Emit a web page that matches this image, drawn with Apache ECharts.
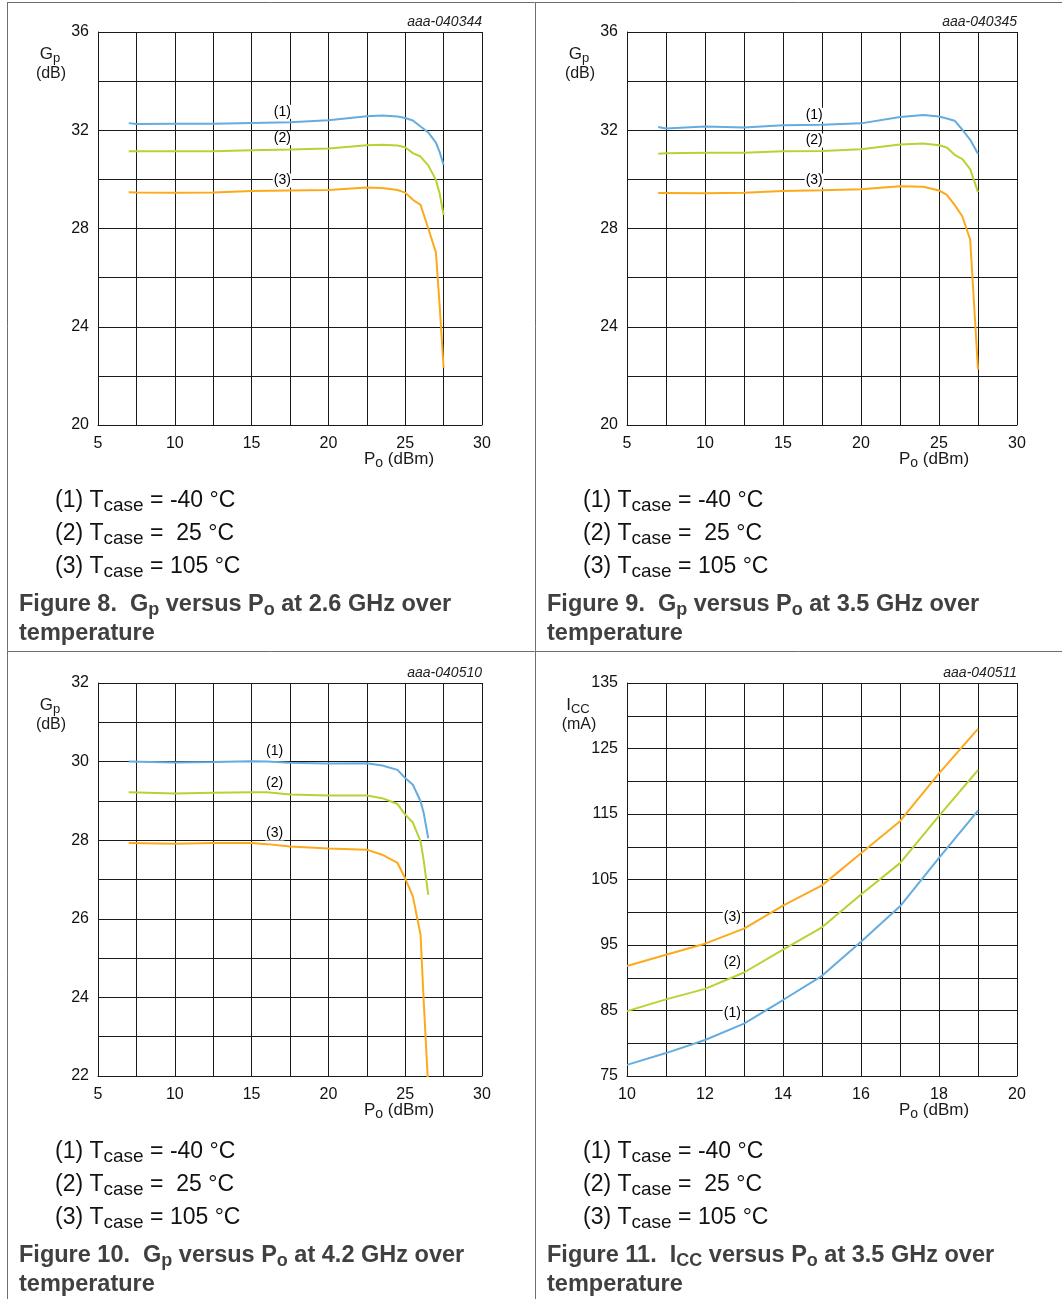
<!DOCTYPE html>
<html>
<head>
<meta charset="utf-8">
<title>Gp / Icc versus Po over temperature</title>
<script src="https://cdn.jsdelivr.net/npm/echarts@6/dist/echarts.min.js"></script>
<style>
  html, body { margin: 0; padding: 0; background: #fff; }
  #main { width: 1062px; height: 1299px; }
</style>
</head>
<body>
<div id="main"></div>
<script>
// ---- data ----
// Figure 8: Gp vs Po at 2.6 GHz
const po26 = [7, 7.5, 10, 12.5, 15, 17.5, 20, 22.5, 23.5, 24.5, 25, 25.5, 26, 26.5, 27, 27.25, 27.5];
const gp26_m40 = [32.29, 32.25, 32.26, 32.26, 32.30, 32.33, 32.41, 32.57, 32.60, 32.56, 32.50, 32.40, 32.15, 31.91, 31.50, 31.10, 30.59];
const gp26_25 = [31.14, 31.15, 31.15, 31.15, 31.19, 31.22, 31.26, 31.39, 31.41, 31.38, 31.31, 31.07, 30.93, 30.57, 29.98, 29.40, 28.55];
const gp26_105 = [29.48, 29.47, 29.46, 29.47, 29.53, 29.55, 29.57, 29.67, 29.65, 29.57, 29.46, 29.17, 28.96, 28.01, 27.03, 24.80, 22.33];
const lbl26 = [[17, 32.75], [17, 31.68], [17, 29.95]];

// Figure 9: Gp vs Po at 3.5 GHz
const po35 = [7, 7.5, 10, 12.5, 15, 17.5, 20, 22.5, 24, 25, 25.5, 26, 26.5, 27, 27.5];
const gp35_m40 = [32.13, 32.07, 32.15, 32.11, 32.20, 32.22, 32.28, 32.54, 32.62, 32.56, 32.48, 32.39, 32.02, 31.61, 31.04];
const gp35_25 = [31.04, 31.06, 31.08, 31.08, 31.14, 31.16, 31.23, 31.42, 31.46, 31.39, 31.30, 31.00, 30.82, 30.42, 29.48];
const gp35_105 = [29.45, 29.45, 29.44, 29.46, 29.53, 29.56, 29.60, 29.72, 29.70, 29.55, 29.37, 28.96, 28.49, 27.54, 22.26];
const lbl35 = [[17, 32.63], [17, 31.58], [17, 29.95]];

// Figure 10: Gp vs Po at 4.2 GHz
const po42 = [7, 10, 12.5, 15, 16, 17.5, 20, 22.5, 23.5, 24.5, 25, 25.5, 26, 26.2, 26.5];
const gp42_m40 = [30.00, 29.98, 29.99, 30.01, 30.00, 29.97, 29.95, 29.96, 29.90, 29.79, 29.58, 29.41, 28.99, 28.70, 28.05];
const gp42_25 = [29.22, 29.19, 29.21, 29.22, 29.22, 29.16, 29.14, 29.14, 29.07, 28.92, 28.65, 28.45, 27.97, 27.50, 26.61];
const gp42_105 = [27.93, 27.91, 27.93, 27.93, 27.90, 27.84, 27.79, 27.76, 27.63, 27.42, 27.03, 26.57, 25.59, 23.94, 21.70];
const lbl42 = [[16.5, 30.26], [16.5, 29.44], [16.5, 28.17]];

// Figure 11: Icc vs Po at 3.5 GHz
const poIcc = [10, 11, 12, 13, 14, 15, 16, 17, 18, 19];
const icc_m40 = [76.7, 78.5, 80.5, 83.0, 86.6, 90.3, 95.5, 100.9, 108.3, 115.5];
const icc_25 = [84.9, 86.7, 88.3, 90.8, 94.3, 97.7, 102.7, 107.5, 114.7, 121.7];
const icc_105 = [91.8, 93.5, 95.2, 97.5, 101.0, 104.1, 109.0, 113.9, 121.2, 128.0];
const lblIcc = [[12.7, 84.6], [12.7, 92.4], [12.7, 99.2]];

const curveNames = ['(1)', '(2)', '(3)'];
const figIds = ['aaa-040344', 'aaa-040345', 'aaa-040510', 'aaa-040511'];

// ---- styling ----
const FONT = '"Liberation Sans", Arial, Helvetica, sans-serif';
const BLUE = '#65acdf';
const GREEN = '#b6d334';
const ORANGE = '#fcaa1c';
const GRID = '#1a1a1a';

const chart = echarts.init(document.getElementById('main'));

const grids = [
    { left: 98, top: 32, width: 384, height: 393 },
    { left: 627, top: 32, width: 390, height: 393 },
    { left: 98, top: 683, width: 384, height: 393 },
    { left: 627, top: 683, width: 390, height: 393 }
];

function xAxisCfg(i, min, max, interval) {
    return {
        type: 'value', gridIndex: i, min: min, max: max, interval: interval,
        axisLine: { show: true, lineStyle: { color: GRID, width: 1 } },
        axisTick: { show: false },
        minorTick: { show: false, splitNumber: 2 },
        axisLabel: { fontSize: 16, color: '#111', margin: 11, fontFamily: FONT },
        splitLine: { show: true, lineStyle: { color: GRID, width: 1 } },
        minorSplitLine: { show: true, lineStyle: { color: GRID, width: 1 } }
    };
}
function yAxisCfg(i, min, max, interval) {
    const a = xAxisCfg(i, min, max, interval);
    a.axisLabel.margin = 9;
    return a;
}

function line(i, xs, ys, color) {
    return {
        type: 'line', xAxisIndex: i, yAxisIndex: i,
        data: xs.map((x, k) => [x, ys[k]]),
        symbol: 'none', clip: true, z: 3,
        lineStyle: { color: color, width: 2 }
    };
}
// curve tags (1)(2)(3) with a white box that breaks the grid line
function labels(i, pos) {
    return {
        type: 'scatter', xAxisIndex: i, yAxisIndex: i, z: 5,
        symbolSize: 2, itemStyle: { color: 'rgba(0,0,0,0)' },
        data: pos.map((p, k) => ({ name: curveNames[k], value: p })),
        label: {
            show: true, position: 'inside', formatter: '{b}', opacity: 1,
            fontSize: 14, color: '#000', fontFamily: FONT,
            backgroundColor: '#fff', padding: [0, 1]
        }
    };
}

// ---- texts (axis names, ids, captions) ----
const sub = (n, s) => ({
    n: { fontSize: n, fontFamily: FONT, fill: '#1a1a1a', lineHeight: 22, verticalAlign: 'middle' },
    s: { fontSize: s, fontFamily: FONT, fill: '#1a1a1a', lineHeight: s, verticalAlign: 'bottom' }
});
function txt(x, y, text, rich, align, extra) {
    return {
        type: 'text', x: x, y: y, z: 10,
        style: Object.assign({
            text: text, rich: rich, fill: '#1a1a1a', fontFamily: FONT,
            align: align || 'left', verticalAlign: 'middle'
        }, extra || {})
    };
}

const legendRich = {
    n: { fontSize: 23, fontFamily: FONT, fill: '#111', lineHeight: 29, verticalAlign: 'middle' },
    s: { fontSize: 19, fontFamily: FONT, fill: '#111', lineHeight: 19, verticalAlign: 'bottom' }
};
const capRich = {
    n: { fontSize: 23.5, fontWeight: 'bold', fontFamily: FONT, fill: '#404040', lineHeight: 29, verticalAlign: 'middle' },
    s: { fontSize: 18, fontWeight: 'bold', fontFamily: FONT, fill: '#404040', lineHeight: 18, verticalAlign: 'bottom' }
};
const capTexts = [
    '{n|Figure 8.  G}{s|p}{n| versus P}{s|o}{n| at 2.6 GHz over}',
    '{n|Figure 9.  G}{s|p}{n| versus P}{s|o}{n| at 3.5 GHz over}',
    '{n|Figure 10.  G}{s|p}{n| versus P}{s|o}{n| at 4.2 GHz over}',
    '{n|Figure 11.  I}{s|CC}{n| versus P}{s|o}{n| at 3.5 GHz over}'
];
const tcase = [
    '{n|(1) T}{s|case}{n| = -40 °C}',
    '{n|(2) T}{s|case}{n| =  25 °C}',
    '{n|(3) T}{s|case}{n| = 105 °C}'
];

const graphics = [];
// panel frame
const frame = { stroke: '#6e6e6e', lineWidth: 1 };
graphics.push({ type: 'line', shape: { x1: 7.5, y1: 2.5, x2: 7.5, y2: 1299 }, style: frame });
graphics.push({ type: 'line', shape: { x1: 7, y1: 2.5, x2: 1062, y2: 2.5 }, style: frame });
graphics.push({ type: 'line', shape: { x1: 535.5, y1: 2.5, x2: 535.5, y2: 1299 }, style: frame });
graphics.push({ type: 'line', shape: { x1: 7, y1: 651.5, x2: 1062, y2: 651.5 }, style: frame });

const panelX = [0, 528, 0, 528];
const panelY = [0, 0, 651, 651];
grids.forEach((g, i) => {
    const right = g.left + g.width;
    const bottom = g.top + g.height;
    // figure id
    graphics.push(txt(right, g.top - 10, figIds[i], null, 'right',
        { fontSize: 14, fontStyle: 'italic', fill: '#222' }));
    // x name
    graphics.push(txt(right - 83, bottom + 34, '{n|P}{s|o}{n| (dBm)}', sub(17, 14), 'center'));
    // y name
    if (i < 3) {
        graphics.push(txt(g.left - 48, g.top + 22, '{n|G}{s|p}', sub(17, 13), 'center'));
        graphics.push(txt(g.left - 47, g.top + 42, '(dB)', null, 'center', { fontSize: 16 }));
    } else {
        graphics.push(txt(g.left - 49, g.top + 22, '{n|I}{s|CC}', sub(17, 13), 'center'));
        graphics.push(txt(g.left - 48, g.top + 42, '(mA)', null, 'center', { fontSize: 16 }));
    }
    // temperature legend
    tcase.forEach((t, k) => {
        graphics.push(txt(panelX[i] + 55, panelY[i] + 501 + k * 33, t, legendRich, 'left'));
    });
    // caption
    graphics.push(txt(panelX[i] + 19, panelY[i] + 605, capTexts[i], capRich, 'left'));
    graphics.push(txt(panelX[i] + 19, panelY[i] + 634, '{n|temperature}', capRich, 'left'));
});

const option = {
    animation: false,
    backgroundColor: '#fff',
    grid: grids,
    xAxis: [
        xAxisCfg(0, 5, 30, 5),
        xAxisCfg(1, 5, 30, 5),
        xAxisCfg(2, 5, 30, 5),
        xAxisCfg(3, 10, 20, 2)
    ],
    yAxis: [
        yAxisCfg(0, 20, 36, 4),
        yAxisCfg(1, 20, 36, 4),
        yAxisCfg(2, 22, 32, 2),
        yAxisCfg(3, 75, 135, 10)
    ],
    series: [
        line(0, po26, gp26_m40, BLUE),
        line(0, po26, gp26_25, GREEN),
        line(0, po26, gp26_105, ORANGE),
        labels(0, lbl26),
        line(1, po35, gp35_m40, BLUE),
        line(1, po35, gp35_25, GREEN),
        line(1, po35, gp35_105, ORANGE),
        labels(1, lbl35),
        line(2, po42, gp42_m40, BLUE),
        line(2, po42, gp42_25, GREEN),
        line(2, po42, gp42_105, ORANGE),
        labels(2, lbl42),
        line(3, poIcc, icc_m40, BLUE),
        line(3, poIcc, icc_25, GREEN),
        line(3, poIcc, icc_105, ORANGE),
        labels(3, lblIcc)
    ],
    graphic: graphics
};
chart.setOption(option);
window.addEventListener('resize', () => {
    chart.resize();
});
</script>
</body>
</html>
